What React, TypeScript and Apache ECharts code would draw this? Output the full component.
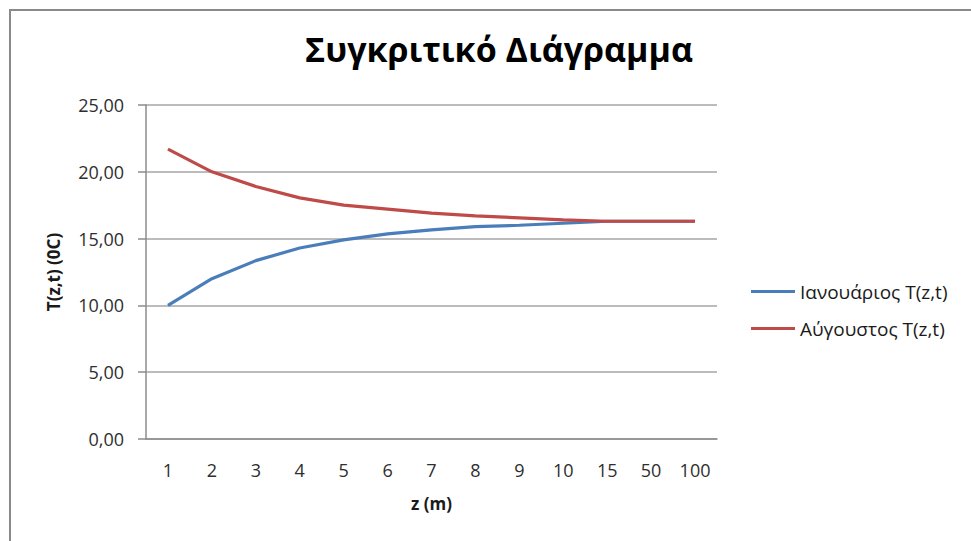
import React, { useEffect, useRef } from "react";
import * as echarts from "echarts";

const categories = ["1", "2", "3", "4", "5", "6", "7", "8", "9", "10", "15", "50", "100"];
const january = [10.0, 12.0, 13.35, 14.3, 14.9, 15.35, 15.65, 15.9, 16.0, 16.15, 16.3, 16.3, 16.3];
const august = [21.7, 20.0, 18.9, 18.05, 17.5, 17.2, 16.9, 16.7, 16.55, 16.4, 16.3, 16.3, 16.3];
const seriesNames = ["Ιανουάριος T(z,t)", "Αύγουστος T(z,t)"];
const titleText = "Συγκριτικό Διάγραμμα";
const xName = "z (m)";
const yName = "T(z,t) (0C)";

const FONT = "'Open Sans', 'Noto Sans', sans-serif";

export default function App() {
  const ref = useRef<HTMLDivElement>(null);
  useEffect(() => {
    if (!ref.current) return;
    const chart = echarts.init(ref.current, null, { renderer: "svg" });
    chart.setOption({
      animation: false,
      backgroundColor: "#ffffff",
      textStyle: { fontFamily: FONT },
      title: {
        text: titleText,
        left: 494,
        top: 27,
        textAlign: "center",
        textStyle: { fontFamily: FONT, fontSize: 34, fontWeight: "bold", color: "#000000" },
      },
      graphic: [
        {
          type: "rect",
          shape: { x: 10, y: 10, width: 1100, height: 700 },
          style: { fill: "none", stroke: "#8a8a8a", lineWidth: 2 },
          silent: true,
        },
      ],
      legend: {
        orient: "vertical",
        left: 751,
        top: 282,
        padding: 0,
        icon: "rect",
        itemWidth: 44,
        itemHeight: 3,
        itemGap: 18,
        textStyle: { fontFamily: FONT, fontSize: 19, color: "#1a1a1a" },
        data: seriesNames,
      },
      grid: { left: 146, right: 254, top: 105, bottom: 102, containLabel: false },
      xAxis: {
        type: "category",
        data: categories,
        boundaryGap: true,
        name: xName,
        nameLocation: "middle",
        nameGap: 56,
        nameTextStyle: { fontFamily: FONT, fontSize: 17, fontWeight: "bold", color: "#1a1a1a" },
        axisLine: { show: true, lineStyle: { color: "#8c8c8c", width: 1.5 } },
        axisTick: { show: false },
        axisLabel: { margin: 22, fontSize: 18, color: "#2e2e2e", fontFamily: FONT, interval: 0 },
        splitLine: { show: false },
      },
      yAxis: {
        type: "value",
        min: 0,
        max: 25,
        interval: 5,
        name: yName,
        nameLocation: "middle",
        nameGap: 84,
        nameRotate: 90,
        nameTextStyle: { fontFamily: FONT, fontSize: 17, fontWeight: "bold", color: "#1a1a1a" },
        axisLine: { show: true, lineStyle: { color: "#8c8c8c", width: 1.5 } },
        axisTick: { show: true, length: 8, lineStyle: { color: "#8c8c8c", width: 1.5 } },
        axisLabel: {
          margin: 22,
          fontSize: 18,
          color: "#2e2e2e",
          fontFamily: FONT,
          formatter: (v: number) => v.toFixed(2).replace(".", ","),
        },
        splitLine: { show: true, lineStyle: { color: "#a6a6a6", width: 1.5 } },
      },
      series: [
        {
          name: seriesNames[0],
          type: "line",
          data: january,
          symbol: "none",
          lineStyle: { color: "#4A7EBB", width: 3.2 },
          itemStyle: { color: "#4A7EBB" },
        },
        {
          name: seriesNames[1],
          type: "line",
          data: august,
          symbol: "none",
          lineStyle: { color: "#BE4B48", width: 3.2 },
          itemStyle: { color: "#BE4B48" },
        },
      ],
    });
    return () => chart.dispose();
  }, []);
  return (
    <div
      ref={ref}
      style={{ position: "fixed", left: 0, top: 0, width: 971, height: 541 }}
    />
  );
}
